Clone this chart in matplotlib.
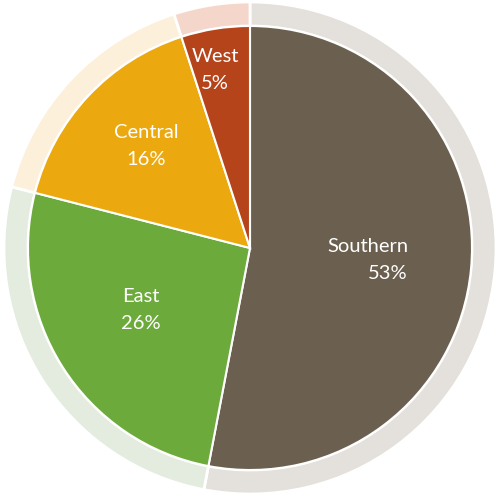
import matplotlib.pyplot as plt

# regional share of total
regions = ["Southern", "East", "Central", "West"]
shares = [53, 26, 16, 5]

main_colors = ["#6b604f", "#6cab3b", "#eba80f", "#b5441b"]
ring_colors = ["#e4e1dc", "#e4ecdf", "#fdf0da", "#f5d6ca"]

fig = plt.figure(figsize=(5.01, 4.96), dpi=100)
ax = fig.add_axes([0, 0, 1, 1])
ax.set_xlim(-250, 251)
ax.set_ylim(-248, 248)
ax.set_aspect("equal")
ax.axis("off")

# outer light ring
ax.pie(shares, radius=246, colors=ring_colors, startangle=90, counterclock=False,
       wedgeprops=dict(width=24, edgecolor="white", linewidth=2))

# main pie
ax.pie(shares, radius=222, colors=main_colors, startangle=90, counterclock=False,
       wedgeprops=dict(edgecolor="white", linewidth=1.5))

ax.set_xlim(-250, 251)
ax.set_ylim(-248, 248)

# label positions (pixels from the centre)
label_pos = {"Southern": (158, -12), "East": (-109, -62),
             "Central": (-104, 102), "West": (-35, 178)}
for name, pct in zip(regions, shares):
    x, y = label_pos[name]
    ha = "right" if name == "Southern" else "center"
    ax.text(x, y, f"{name}\n{pct}%", ha=ha, va="center", multialignment=ha,
            color="white", fontsize=14.5, family="Lato", linespacing=1.65)

fig.savefig("out.png", dpi=100)
